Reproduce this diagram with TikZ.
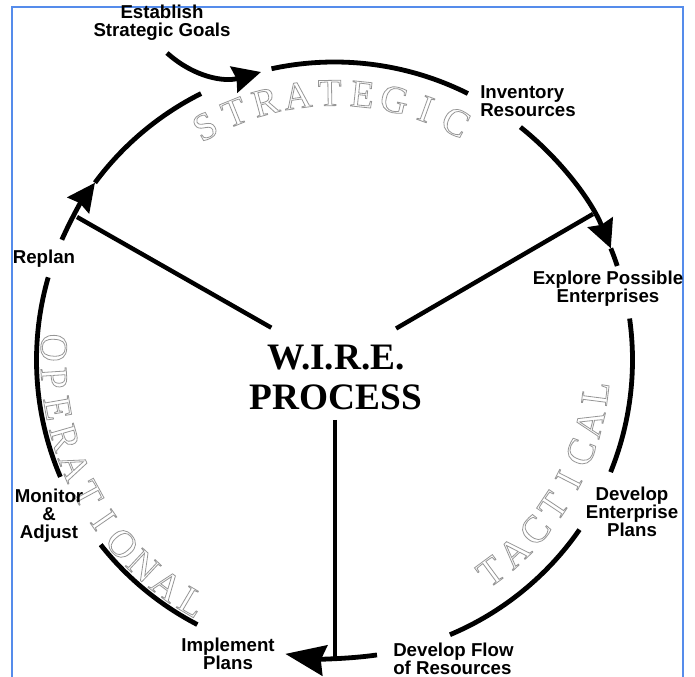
\documentclass[tikz,border=0pt]{standalone}
\usepackage{fontspec}
\setmainfont{Liberation Serif}
\setsansfont{Liberation Sans}
\usetikzlibrary{arrows.meta}
\definecolor{myblue}{RGB}{85,140,235}
\definecolor{mygrey}{RGB}{150,150,150}
\newcommand\hollow[1]{\special{pdf:literal direct 1 Tr 0.6 w}#1\special{pdf:literal direct 0 Tr}}

\begin{document}
\begin{tikzpicture}[x=0.75pt, y=0.75pt,
    ring/.style={line width=3.6pt},
    spoke/.style={line width=3.3pt},
    tip/.style={-{Stealth[length=21pt,width=20pt,inset=2pt]}},
    lbl/.style={font=\sffamily\bfseries\fontsize{14}{13.5}\selectfont, align=center, inner sep=0pt},
    ltr/.style={font=\fontsize{29}{29}\selectfont, text=mygrey, inner sep=0pt}]
    \useasboundingbox (-334.5,-317) rectangle (360.5,360);
    \draw[myblue, line width=1pt] (-322.5,-317) -- (-322.5,353) -- (348.5,353) -- (348.5,-317);

    % hollow letters round the ring
    \foreach \c [count=\i, evaluate=\i as \a using 126-7*\i] in {S,T,R,A,T,E,G,I,C}
        \node[ltr, rotate=\a-90] at (\a:267) {\hollow{\c}};
    \foreach \c [count=\i, evaluate=\i as \a using -60.1+6.6*\i] in {T,A,C,T,I,C,A,L}
        \node[ltr, rotate=\a+90] at (\a:263) {\hollow{\c}};
    \foreach \c [count=\i, evaluate=\i as \a using 171.3+6.2*\i] in {O,P,E,R,A,T,I,O,N,A,L}
        \node[ltr, rotate=\a+90] at (\a:281) {\hollow{\c}};

    \node[font=\bfseries\fontsize{28}{30}\selectfont, align=center, inner sep=0pt] (wire) at (1.5,-17) {W.I.R.E.\\PROCESS};

    \node[lbl] (est) at (-172.5,337) {Establish\\Strategic Goals};
    \node[lbl, anchor=west, align=left] (inv) at (145.5,259) {Inventory\\Resources};
    \node[lbl] (exp) at (273.5,71) {Explore Possible\\Enterprises};
    \node[lbl] (dep) at (297.5,-152) {Develop\\Enterprise\\Plans};
    \node[lbl, anchor=west, align=left] (dfl) at (58.5,-299) {Develop Flow\\of Resources};
    \node[lbl] (imp) at (-106.5,-294) {Implement\\Plans};
    \node[lbl] (mon) at (-285.5,-156) {Monitor\\\&\\Adjust};
    \node[lbl] (rep) at (-290.5,101) {Replan};

    \coordinate (hub) at (0.5,-4);
    \coordinate (sUL) at (-257.5,143);
    \coordinate (sUR) at (258.5,146);
    \coordinate (sD) at (0.5,-297);
    \coordinate (go) at (-167.5,307);

    % the ring
    \draw[ring] (102.2:298) arc[start angle=102.2, end angle=63.4, radius=298];
    \draw[ring, tip] (51.4:298) arc[start angle=51.4, end angle=22, radius=298];
    \draw[ring] (22:298) arc[start angle=22, end angle=18.4, radius=298];
    \draw[ring] (8:298) arc[start angle=8, end angle=-22.1, radius=298];
    \draw[ring] (-34.7:298) arc[start angle=-34.7, end angle=-67.2, radius=298];
    \draw[ring, -{Stealth[length=30pt,width=23pt,inset=3pt]}] (-81.8:298) arc[start angle=-81.8, end angle=-99.5, radius=298];
    \draw[ring] (242.6:298) arc[start angle=242.6, end angle=218.3, radius=298];
    \draw[ring] (203.1:298) arc[start angle=203.1, end angle=163.9, radius=298];
    \draw[ring, tip] (156.2:298) arc[start angle=156.2, end angle=143.5, radius=298];
    \draw[ring] (143.5:298) arc[start angle=143.5, end angle=116.6, radius=298];
    \draw[ring, tip] (go) .. controls (-139.5,282) and (-109.5,278) .. (-73.5,288);

    \path[spoke] (hub) edge[shorten <=55pt] (sUL)
                 (hub) edge[shorten <=53pt] (sUR)
                 (hub) edge[shorten <=42pt] (sD);
\end{tikzpicture}
\end{document}
